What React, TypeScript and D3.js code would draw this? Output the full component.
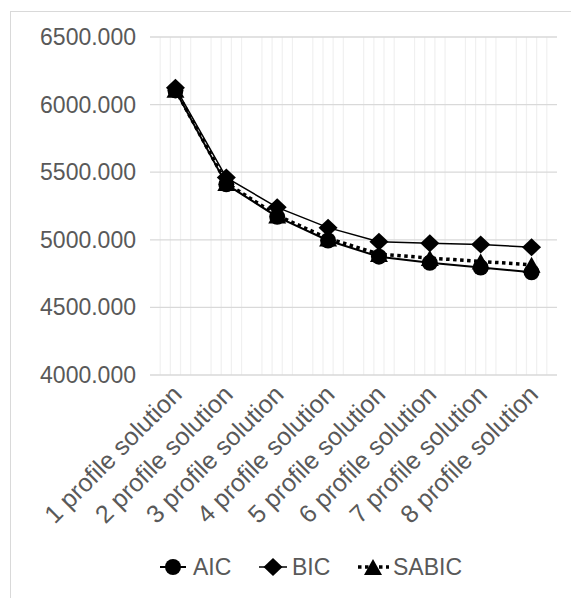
import React from "react";
import * as d3 from "d3";

const categories = [
  "1 profile solution",
  "2 profile solution",
  "3 profile solution",
  "4 profile solution",
  "5 profile solution",
  "6 profile solution",
  "7 profile solution",
  "8 profile solution",
];
const aicValues = [6105, 5410, 5170, 4995, 4875, 4830, 4795, 4760];
const bicValues = [6125, 5460, 5240, 5090, 4985, 4975, 4965, 4945];
const sabicValues = [6110, 5420, 5180, 5010, 4895, 4865, 4840, 4815];
const yTicks = [4000, 4500, 5000, 5500, 6000, 6500];
const seriesNames = ["AIC", "BIC", "SABIC"];

const W = 571;
const H = 598;
const plotLeft = 150;
const plotRight = 557;
const plotTop = 37;
const plotBottom = 375;
const FONT = "'Liberation Sans', Arial, sans-serif";
const TEXT_COLOR = "#595959";

const circlePath = (r: number) => d3.symbol(d3.symbolCircle, Math.PI * r * r)() as string;
const diamondPath = (w: number, h: number) => `M0,${-h / 2}L${w / 2},0L0,${h / 2}L${-w / 2},0Z`;
const trianglePath = (w: number, h: number) => `M0,${-h / 2}L${w / 2},${h / 2}L${-w / 2},${h / 2}Z`;

export default function App() {
  const x = d3.scaleBand<string>().domain(categories).range([plotLeft, plotRight]).padding(0);
  const bw = x.bandwidth();
  const cx = (c: string) => (x(c) as number) + bw / 2;
  const y = d3.scaleLinear().domain([4000, 6500]).range([plotBottom, plotTop]);

  const line = d3
    .line<number>()
    .x((_, i) => cx(categories[i]))
    .y((d) => y(d));

  const minor: number[] = [];
  categories.forEach((c) => {
    for (let k = 1; k <= 4; k++) minor.push((x(c) as number) + (bw * k) / 5);
  });

  const series = [
    { name: seriesNames[0], values: aicValues, width: 2, dash: undefined as string | undefined, marker: circlePath(8) },
    { name: seriesNames[1], values: bicValues, width: 1.5, dash: undefined, marker: diamondPath(19, 18) },
    { name: seriesNames[2], values: sabicValues, width: 3.5, dash: "3.5,3.5", marker: trianglePath(18, 16) },
  ];

  const legend = [
    { x1: 160, x2: 186, mx: 173, tx: 193, s: series[0] },
    { x1: 259, x2: 287, mx: 273, tx: 292, s: series[1] },
    { x1: 358, x2: 389, mx: 373, tx: 393, s: series[2] },
  ];
  const legendY = 567;

  return (
    <svg
      width={W}
      height={H}
      style={{ position: "absolute", left: 0, top: 0, background: "#fff" }}
      fontFamily={FONT}
    >
      <rect x={0} y={0} width={W} height={H} fill="#fff" />
      <rect x={10.5} y={11.5} width={W + 10} height={H + 10} fill="none" stroke="#d9d9d9" strokeWidth={1} />

      {minor.map((mx, i) => (
        <line key={"m" + i} x1={mx} x2={mx} y1={plotTop} y2={plotBottom} stroke="#f0f0f0" strokeWidth={1.2} />
      ))}
      {yTicks.map((t) => (
        <line key={"g" + t} x1={plotLeft} x2={plotRight} y1={y(t)} y2={y(t)} stroke="#d9d9d9" strokeWidth={1.3} />
      ))}
      {yTicks.map((t) => (
        <text
          key={"yl" + t}
          x={136}
          y={y(t)}
          dy="0.35em"
          textAnchor="end"
          fontSize={23}
          fill={TEXT_COLOR}
        >
          {d3.format(".3f")(t)}
        </text>
      ))}

      {categories.map((c) => (
        <text
          key={"xl" + c}
          transform={`translate(${cx(c) + 8},${396}) rotate(-45)`}
          textAnchor="end"
          fontSize={25}
          fill={TEXT_COLOR}
        >
          {c}
        </text>
      ))}

      {series.map((s) => (
        <g key={s.name}>
          <path
            d={line(s.values) as string}
            fill="none"
            stroke="#000"
            strokeWidth={s.width}
            strokeDasharray={s.dash}
            strokeLinejoin="round"
          />
          {s.values.map((v, i) => (
            <path key={i} d={s.marker} transform={`translate(${cx(categories[i])},${y(v)})`} fill="#000" />
          ))}
        </g>
      ))}

      {legend.map((l) => (
        <g key={"lg" + l.s.name}>
          <line
            x1={l.x1}
            x2={l.x2}
            y1={legendY}
            y2={legendY}
            stroke="#000"
            strokeWidth={l.s.width}
            strokeDasharray={l.s.dash}
          />
          <path d={l.s.marker} transform={`translate(${l.mx},${legendY})`} fill="#000" />
          <text x={l.tx} y={legendY} dy="0.35em" fontSize={23} fill={TEXT_COLOR}>
            {l.s.name}
          </text>
        </g>
      ))}
    </svg>
  );
}
